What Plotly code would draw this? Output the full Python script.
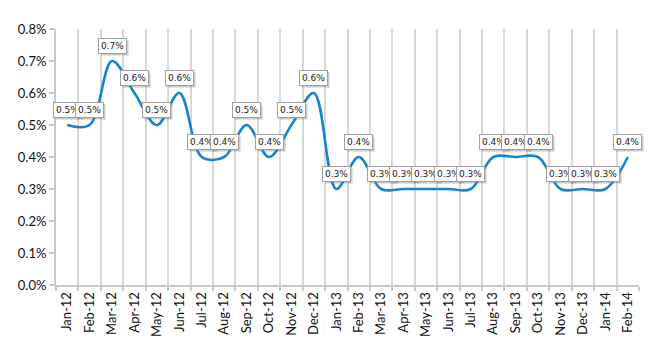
import plotly.graph_objects as go

months = ["Jan-12","Feb-12","Mar-12","Apr-12","May-12","Jun-12","Jul-12","Aug-12","Sep-12","Oct-12","Nov-12","Dec-12",
          "Jan-13","Feb-13","Mar-13","Apr-13","May-13","Jun-13","Jul-13","Aug-13","Sep-13","Oct-13","Nov-13","Dec-13",
          "Jan-14","Feb-14"]
rates = [0.005,0.005,0.007,0.006,0.005,0.006,0.004,0.004,0.005,0.004,0.005,0.006,
         0.003,0.004,0.003,0.003,0.003,0.003,0.003,0.004,0.004,0.004,0.003,0.003,
         0.003,0.004]

fig = go.Figure()
fig.add_trace(go.Scatter(x=months, y=rates, mode="lines",
                         line=dict(color="#1684cf", width=2.6, shape="spline", smoothing=1.0),
                         hoverinfo="skip"))

anns = []
for m, v in zip(months, rates):
    txt = f"{v*100:.1f}%"
    anns.append(dict(x=m, y=v, text=txt, showarrow=False, yshift=13, xshift=2,
                     font=dict(family="DejaVu Sans", size=9, color="rgba(0,0,0,0)"),
                     bgcolor="rgba(120,120,120,0.4)", borderpad=2, borderwidth=1,
                     bordercolor="rgba(120,120,120,0)"))
for m, v in zip(months, rates):
    txt = f"{v*100:.1f}%"
    anns.append(dict(x=m, y=v, text=txt, showarrow=False, yshift=15,
                     font=dict(family="DejaVu Sans", size=9, color="#222222"),
                     bgcolor="white", bordercolor="#a0a0a0", borderwidth=1, borderpad=2))

fig.update_layout(
    width=650, height=350,
    margin=dict(l=56, r=11, t=29, b=65),
    paper_bgcolor="white", plot_bgcolor="white",
    showlegend=False,
    annotations=anns,
    font=dict(family="Lato", color="#111111"),
    xaxis=dict(type="category", tickson="boundaries", showgrid=True, gridcolor="#d8d8d8", gridwidth=2,
               showline=True, linecolor="#c8c8c8", linewidth=2, ticks="outside", ticklen=4,
               tickcolor="#c8c8c8", tickwidth=2, tickangle=-90,
               tickfont=dict(size=13, family="Lato", color="#111111"),
               range=[-0.5, len(months) - 0.5], fixedrange=True),
    yaxis=dict(range=[0, 0.008], dtick=0.001, tickformat=".1%", showgrid=False, zeroline=False,
               showline=True, linecolor="#c8c8c8", linewidth=2, ticks="outside", ticklen=5,
               tickcolor="#c8c8c8", tickwidth=2,
               tickfont=dict(size=13, family="Lato", color="#111111"), fixedrange=True),
)

fig.write_html("out.html")
